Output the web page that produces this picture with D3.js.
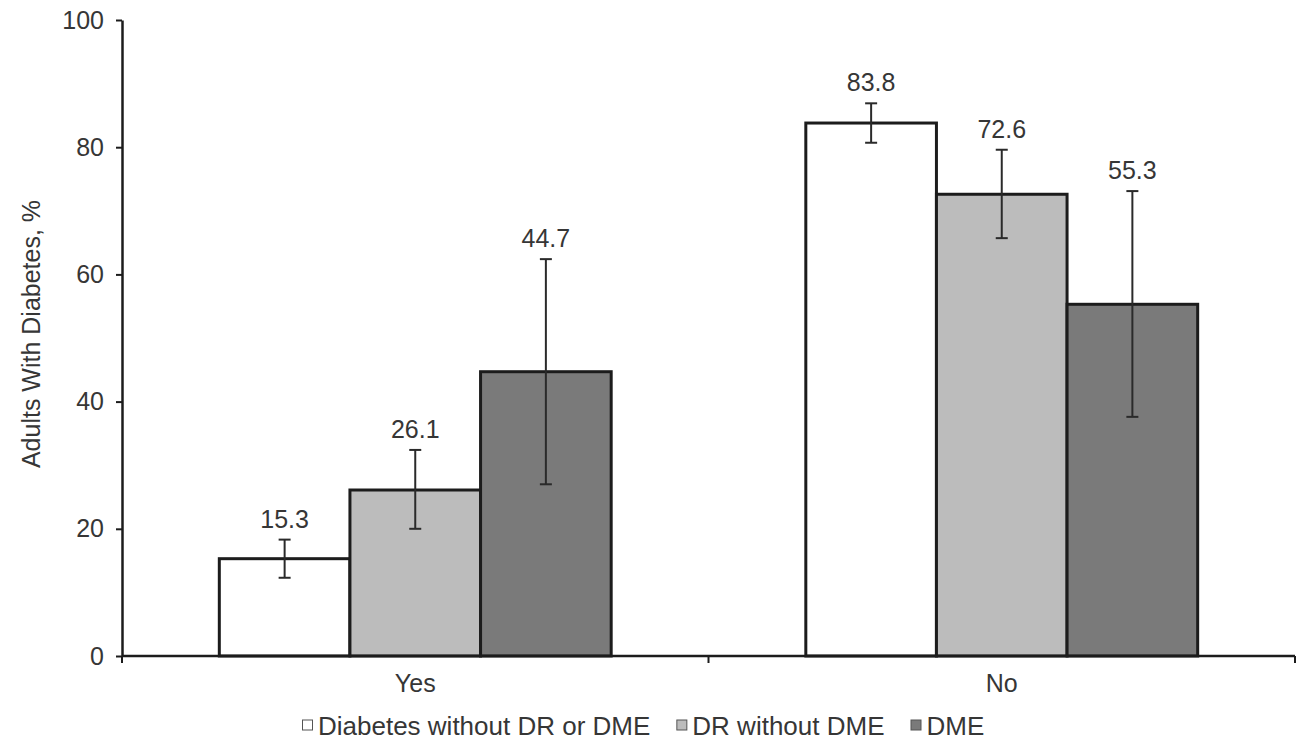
<!DOCTYPE html>
<html>
<head>
<meta charset="utf-8">
<script src="https://cdn.jsdelivr.net/npm/d3@7/dist/d3.min.js"></script>
<style>
  html, body { margin: 0; padding: 0; background: #fff; }
  svg { display: block; }
  text { font-family: "Liberation Sans", Arial, sans-serif; fill: #363636; }
</style>
</head>
<body>
<svg id="chart" width="1304" height="742"></svg>
<script>
// Categories and series
const categories = ["Yes", "No"];
const seriesNames = ["Diabetes without DR or DME", "DR without DME", "DME"];
const seriesColors = ["#ffffff", "#bcbcbc", "#7a7a7a"];

// Percent values per series, one entry per category
const noDrDme = [15.3, 83.8];
const drNoDme = [26.1, 72.6];
const dme = [44.7, 55.3];

// 95% CI bounds per series
const noDrDmeLow = [12.3, 80.7];
const noDrDmeHigh = [18.3, 86.9];
const drNoDmeLow = [20.0, 65.7];
const drNoDmeHigh = [32.4, 79.6];
const dmeLow = [27.0, 37.6];
const dmeHigh = [62.4, 73.1];

const yTicks = [0, 20, 40, 60, 80, 100];

const values = [noDrDme, drNoDme, dme];
const lows = [noDrDmeLow, drNoDmeLow, dmeLow];
const highs = [noDrDmeHigh, drNoDmeHigh, dmeHigh];

const svg = d3.select("#chart");
const mLeft = 122, mRight = 1295, mTop = 20, mBottom = 656;

const x0 = d3.scaleBand().domain(categories).range([mLeft, mRight]).padding(0);
const x1 = d3.scaleBand().domain(d3.range(seriesNames.length))
  .range([0, x0.bandwidth()]).paddingInner(0).paddingOuter(0.745);
const y = d3.scaleLinear().domain([0, 100]).range([mBottom, mTop]);

// Flattened records for drawing
const records = [];
categories.forEach((c, ci) => {
  seriesNames.forEach((s, si) => {
    records.push({ cat: c, si, v: values[si][ci], lo: lows[si][ci], hi: highs[si][ci] });
  });
});

// Bars
svg.append("g").selectAll("rect").data(records).join("rect")
  .attr("x", d => x0(d.cat) + x1(d.si))
  .attr("y", d => y(d.v))
  .attr("width", x1.bandwidth())
  .attr("height", d => y(0) - y(d.v))
  .attr("fill", d => seriesColors[d.si])
  .attr("stroke", "#1c1c1c")
  .attr("stroke-width", 3);

// Error bars
const eb = svg.append("g").attr("stroke", "#2a2a2a").attr("stroke-width", 2);
records.forEach(d => {
  const cx = x0(d.cat) + x1(d.si) + x1.bandwidth() / 2;
  eb.append("line").attr("x1", cx).attr("x2", cx).attr("y1", y(d.lo)).attr("y2", y(d.hi));
  eb.append("line").attr("x1", cx - 6).attr("x2", cx + 6).attr("y1", y(d.lo)).attr("y2", y(d.lo));
  eb.append("line").attr("x1", cx - 6).attr("x2", cx + 6).attr("y1", y(d.hi)).attr("y2", y(d.hi));
});

// Value labels above the upper CI
svg.append("g").selectAll("text").data(records).join("text")
  .attr("x", d => x0(d.cat) + x1(d.si) + x1.bandwidth() / 2)
  .attr("y", d => y(d.hi) - 12)
  .attr("text-anchor", "middle")
  .attr("font-size", 25)
  .text(d => d.v.toFixed(1));

// Y axis
const yAxis = svg.append("g").attr("transform", `translate(${mLeft},0)`)
  .call(d3.axisLeft(y).tickValues(yTicks).tickSize(6).tickPadding(12).tickSizeOuter(0));
yAxis.select(".domain").attr("stroke", "#1c1c1c").attr("stroke-width", 2.5);
yAxis.selectAll(".tick line").attr("stroke", "#1c1c1c").attr("stroke-width", 2);
yAxis.selectAll(".tick text").attr("font-size", 25).attr("fill", "#363636")
  .style("font-family", "'Liberation Sans', Arial, sans-serif");

// X axis: ticks at category boundaries
const xAxisG = svg.append("g").attr("transform", `translate(0,${mBottom})`);
xAxisG.append("line").attr("x1", mLeft).attr("x2", mRight).attr("y1", 0).attr("y2", 0)
  .attr("stroke", "#1c1c1c").attr("stroke-width", 2.5);
const boundaries = categories.map(c => x0(c)).concat([x0(categories[categories.length - 1]) + x0.bandwidth()]);
xAxisG.selectAll("line.tk").data(boundaries).join("line").attr("class", "tk")
  .attr("x1", d => d).attr("x2", d => d).attr("y1", 0).attr("y2", 7)
  .attr("stroke", "#1c1c1c").attr("stroke-width", 2);
xAxisG.selectAll("text").data(categories).join("text")
  .attr("x", d => x0(d) + x0.bandwidth() / 2)
  .attr("y", 36)
  .attr("text-anchor", "middle")
  .attr("font-size", 25)
  .text(d => d);

// Y axis title
svg.append("text")
  .attr("transform", `translate(40,334) rotate(-90)`)
  .attr("text-anchor", "middle")
  .attr("font-size", 25)
  .text("Adults With Diabetes, %");

// Legend
const legend = svg.append("g").attr("transform", "translate(302,735)");
let lx = 0;
seriesNames.forEach((s, i) => {
  const g = legend.append("g").attr("transform", `translate(${lx},0)`);
  g.append("rect").attr("x", 0.5).attr("y", -15).attr("width", 10).attr("height", 10)
    .attr("fill", seriesColors[i]).attr("stroke", "#555").attr("stroke-width", 1);
  const t = g.append("text").attr("x", 16).attr("y", 0).attr("font-size", 26).text(s);
  lx += 16 + t.node().getComputedTextLength() + 26;
});
</script>
</body>
</html>
